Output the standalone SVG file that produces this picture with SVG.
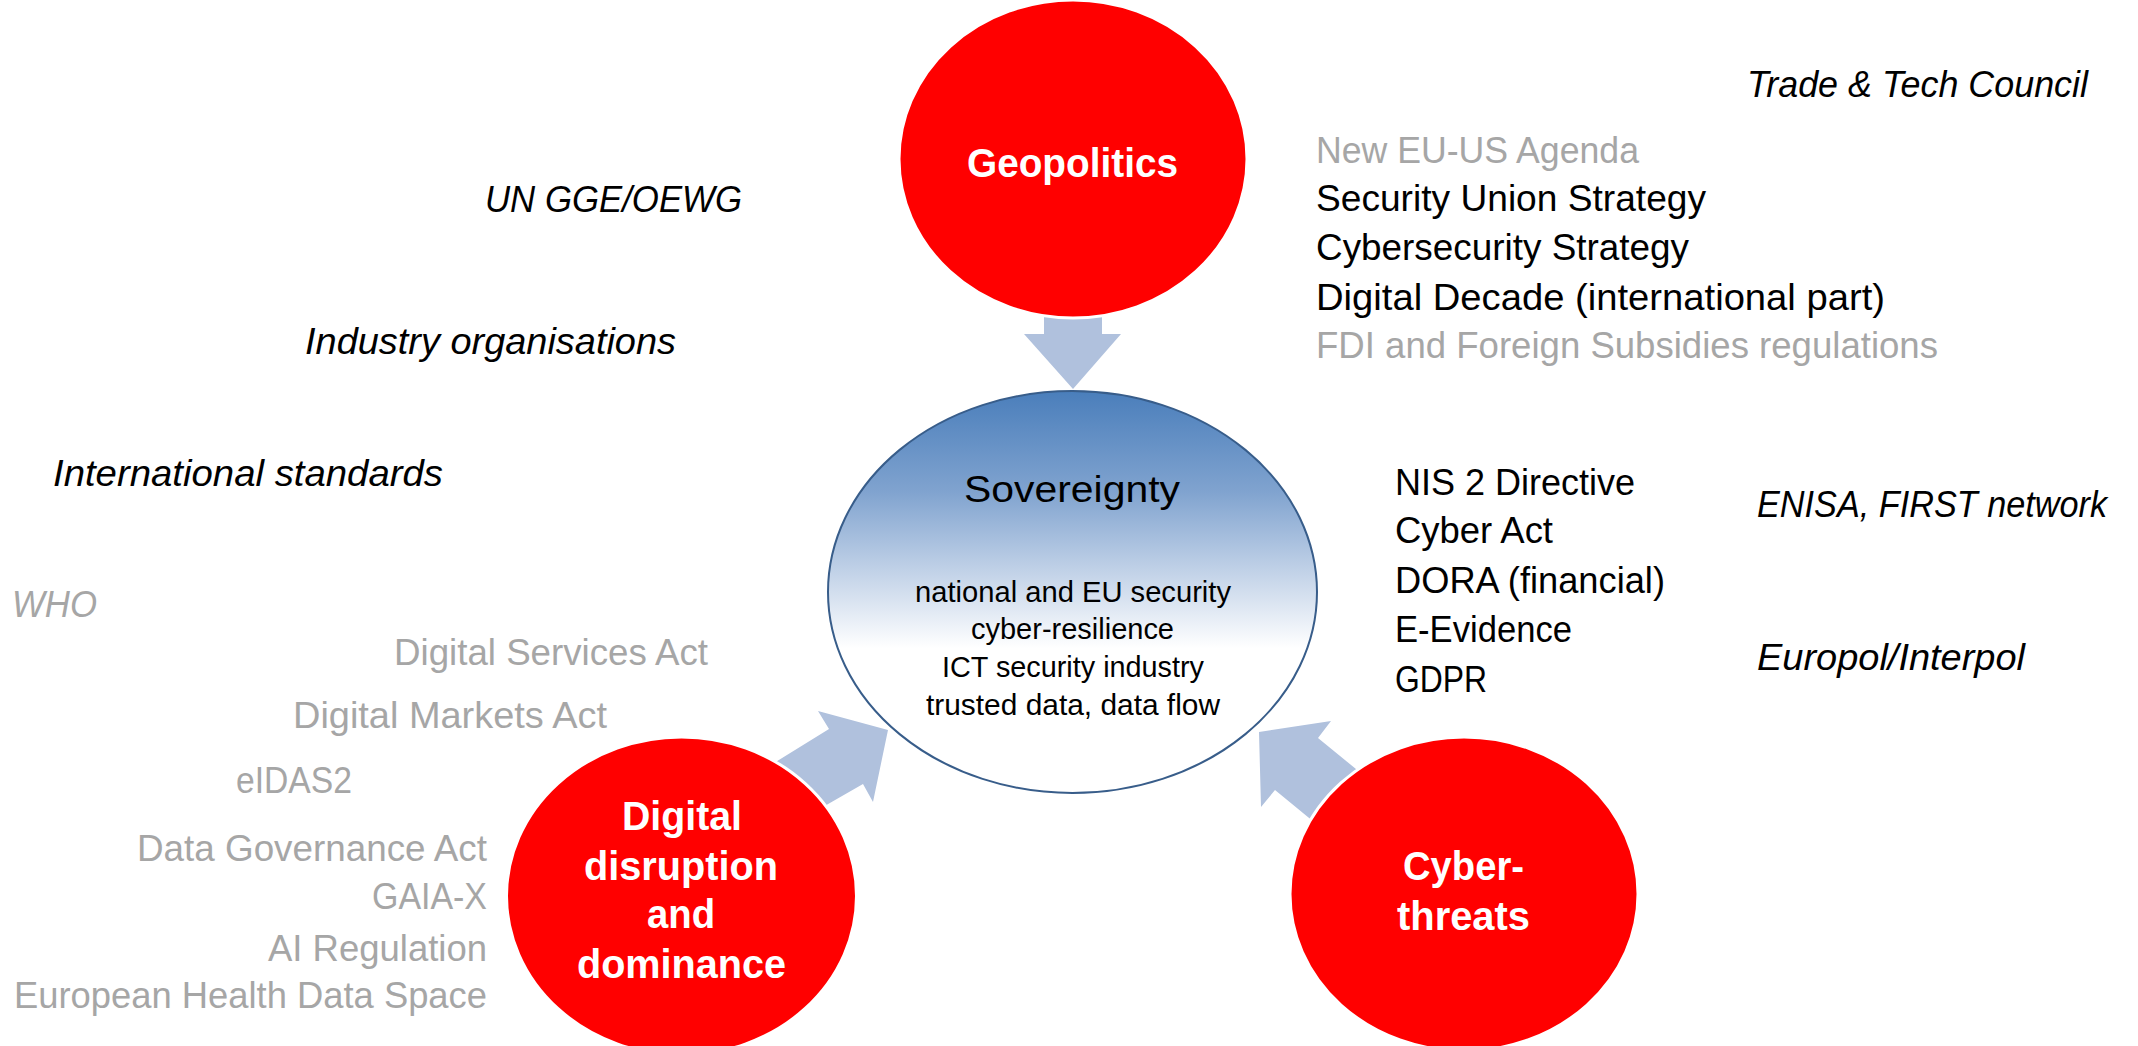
<svg xmlns="http://www.w3.org/2000/svg" width="2138" height="1046" viewBox="0 0 2138 1046">
<style>
.t{font-family:"Liberation Sans",Arial,sans-serif;font-size:36px;fill:#000}
.g{fill:#A6A6A6}
.i{font-style:italic}
.red{fill:#FF0000;stroke:#FFFFFF;stroke-width:3}
.lbl{font-family:"Liberation Sans",Arial,sans-serif;font-weight:bold;font-size:40px;fill:#FFFFFF;text-anchor:middle}
.arrow{fill:#B0C1DD;stroke:none}
.sub{font-family:"Liberation Sans",Arial,sans-serif;font-size:29px;fill:#000}
</style>
<defs>
<linearGradient id="sovGrad" x1="0" y1="0" x2="0" y2="1">
<stop offset="0" stop-color="#4A7EBB"/>
<stop offset="0.25" stop-color="#80A3CF"/>
<stop offset="0.42" stop-color="#B8CBE4"/>
<stop offset="0.64" stop-color="#FFFFFF"/>
<stop offset="1" stop-color="#FFFFFF"/>
</linearGradient>
</defs>
<rect x="0" y="0" width="2138" height="1046" fill="#FFFFFF"/>

<g id="connectors">
<polygon class="arrow" points="1044,300 1102,300 1102,334 1121,334 1073,389 1024,334 1044,334"/>
<polygon class="arrow" points="753,776 829,729 818,711 888,730 873,802 863,784 802,819"/>
<polygon class="arrow" points="1378,787 1318,738 1331,721 1259,732 1261,807 1275,790 1331,836"/>
</g>

<g id="node-sovereignty">
<ellipse cx="1072.5" cy="592" rx="244.5" ry="201" fill="url(#sovGrad)" stroke="#385D8A" stroke-width="2"/>
<text class="t" x="1072" y="502" font-size="40" text-anchor="middle" textLength="216" lengthAdjust="spacingAndGlyphs">Sovereignty</text>
<text class="sub" x="915" y="602" textLength="316" lengthAdjust="spacingAndGlyphs">national and EU security</text>
<text class="sub" x="971" y="639" textLength="203" lengthAdjust="spacingAndGlyphs">cyber-resilience</text>
<text class="sub" x="942" y="677" textLength="262" lengthAdjust="spacingAndGlyphs">ICT security industry</text>
<text class="sub" x="926" y="715" textLength="294" lengthAdjust="spacingAndGlyphs">trusted data, data flow</text>
</g>

<g id="node-geopolitics">
<ellipse class="red" cx="1073" cy="159" rx="174" ry="159"/>
<text class="lbl" x="1072.5" y="177" textLength="211" lengthAdjust="spacingAndGlyphs">Geopolitics</text>
</g>

<g id="node-digital">
<ellipse class="red" cx="681.5" cy="896" rx="175" ry="159"/>
<text class="lbl" x="682" y="830" textLength="120" lengthAdjust="spacingAndGlyphs">Digital</text>
<text class="lbl" x="681" y="880" textLength="194" lengthAdjust="spacingAndGlyphs">disruption</text>
<text class="lbl" x="681" y="928" textLength="68" lengthAdjust="spacingAndGlyphs">and</text>
<text class="lbl" x="681.5" y="978" textLength="209" lengthAdjust="spacingAndGlyphs">dominance</text>
</g>

<g id="node-cyberthreats">
<ellipse class="red" cx="1464" cy="894" rx="174" ry="157"/>
<text class="lbl" x="1463.5" y="880" textLength="121" lengthAdjust="spacingAndGlyphs">Cyber-</text>
<text class="lbl" x="1463.5" y="930" textLength="133" lengthAdjust="spacingAndGlyphs">threats</text>
</g>

<g id="labels-international">
<text class="t i" x="1747" y="97" textLength="341" lengthAdjust="spacingAndGlyphs">Trade &amp; Tech Council</text>
<text class="t i" x="485" y="212" textLength="257" lengthAdjust="spacingAndGlyphs">UN GGE/OEWG</text>
<text class="t i" x="305" y="354" textLength="371" lengthAdjust="spacingAndGlyphs">Industry organisations</text>
<text class="t i" x="53" y="486" textLength="390" lengthAdjust="spacingAndGlyphs">International standards</text>
<text class="t i g" x="12" y="617" textLength="85" lengthAdjust="spacingAndGlyphs">WHO</text>
<text class="t i" x="1757" y="517" textLength="350" lengthAdjust="spacingAndGlyphs">ENISA, FIRST network</text>
<text class="t i" x="1757" y="670" textLength="268" lengthAdjust="spacingAndGlyphs">Europol/Interpol</text>
</g>

<g id="labels-geopolitics">
<text class="t g" x="1316" y="163" textLength="323" lengthAdjust="spacingAndGlyphs">New EU-US Agenda</text>
<text class="t" x="1316" y="211" textLength="390" lengthAdjust="spacingAndGlyphs">Security Union Strategy</text>
<text class="t" x="1316" y="260" textLength="373" lengthAdjust="spacingAndGlyphs">Cybersecurity Strategy</text>
<text class="t" x="1316" y="310" textLength="569" lengthAdjust="spacingAndGlyphs">Digital Decade (international part)</text>
<text class="t g" x="1316" y="358" textLength="622" lengthAdjust="spacingAndGlyphs">FDI and Foreign Subsidies regulations</text>
</g>

<g id="labels-cyber">
<text class="t" x="1395" y="495" textLength="240" lengthAdjust="spacingAndGlyphs">NIS 2 Directive</text>
<text class="t" x="1395" y="543" textLength="158" lengthAdjust="spacingAndGlyphs">Cyber Act</text>
<text class="t" x="1395" y="593" textLength="270" lengthAdjust="spacingAndGlyphs">DORA (financial)</text>
<text class="t" x="1395" y="642" textLength="177" lengthAdjust="spacingAndGlyphs">E-Evidence</text>
<text class="t" x="1395" y="692" textLength="92" lengthAdjust="spacingAndGlyphs">GDPR</text>
</g>

<g id="labels-digital">
<text class="t g" x="394" y="665" textLength="314" lengthAdjust="spacingAndGlyphs">Digital Services Act</text>
<text class="t g" x="293" y="728" textLength="314" lengthAdjust="spacingAndGlyphs">Digital Markets Act</text>
<text class="t g" x="236" y="793" textLength="116" lengthAdjust="spacingAndGlyphs">eIDAS2</text>
<text class="t g" x="137" y="861" textLength="350" lengthAdjust="spacingAndGlyphs">Data Governance Act</text>
<text class="t g" x="372" y="909" textLength="115" lengthAdjust="spacingAndGlyphs">GAIA-X</text>
<text class="t g" x="268" y="961" textLength="219" lengthAdjust="spacingAndGlyphs">AI Regulation</text>
<text class="t g" x="14" y="1008" textLength="473" lengthAdjust="spacingAndGlyphs">European Health Data Space</text>
</g>
</svg>
